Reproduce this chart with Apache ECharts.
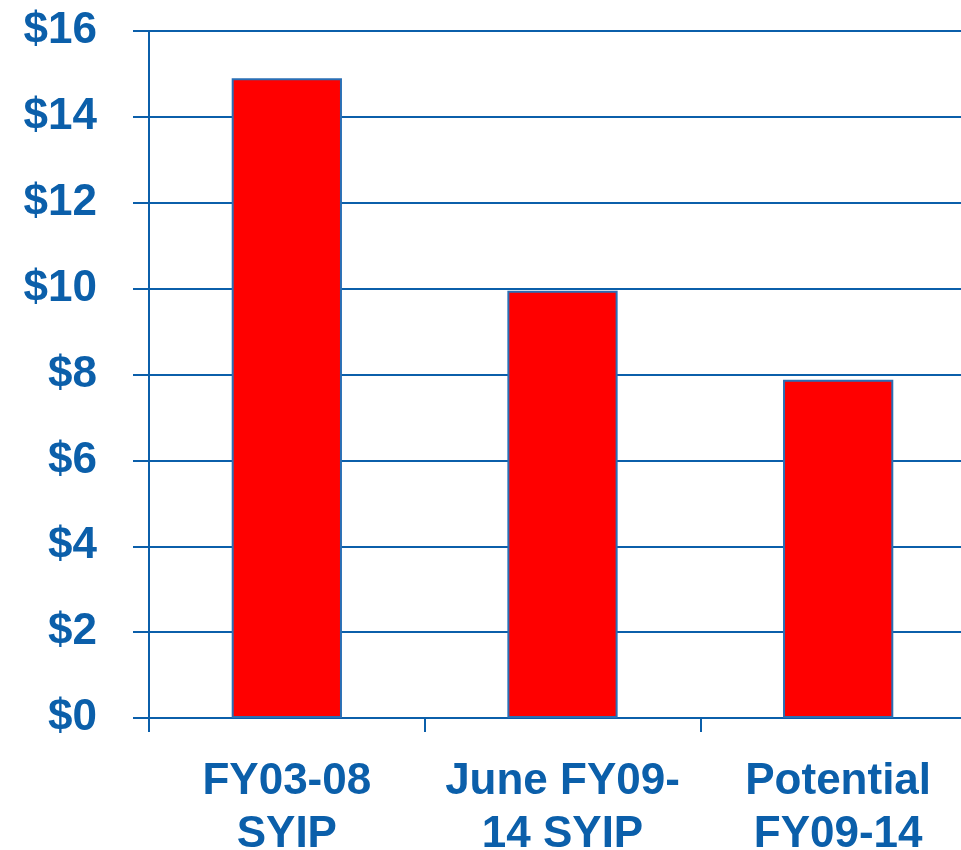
<!DOCTYPE html>
<html>
<head>
<meta charset="utf-8">
<script src="https://cdn.jsdelivr.net/npm/echarts@6/dist/echarts.min.js"></script>
<style>
html, body { margin: 0; padding: 0; background: #fff; }
#main { width: 961px; height: 850px; }
</style>
</head>
<body>
<div id="main"></div>
<script>
let categories = ['FY03-08\nSYIP', 'June FY09-\n14 SYIP', 'Potential\nFY09-14']
let values = [14.9, 9.95, 7.88]
let yTicks = [0, 2, 4, 6, 8, 10, 12, 14, 16]

let blue = '#0B5FAA'
let chart = echarts.init(document.getElementById('main'))
let option = {
	backgroundColor: '#fff',
	animation: false,
	grid: {
		left: 149,
		right: -15,
		top: 31,
		bottom: 132,
		containLabel: false,
		outerBoundsMode: 'none'
	},
	xAxis: {
		type: 'category',
		data: categories,
		boundaryGap: true,
		axisLine: { lineStyle: { color: blue, width: 2 } },
		axisTick: { show: true, length: 14, lineStyle: { color: blue, width: 2 } },
		axisLabel: {
			interval: 0,
			margin: 37,
			color: blue,
			fontFamily: 'Liberation Sans, Arial, sans-serif',
			fontWeight: 'bold',
			fontSize: 44,
			lineHeight: 53
		}
	},
	yAxis: {
		type: 'value',
		min: yTicks[0],
		max: yTicks[yTicks.length - 1],
		interval: 2,
		axisLine: { show: true, lineStyle: { color: blue, width: 2 } },
		axisTick: { show: true, length: 16, lineStyle: { color: blue, width: 2 } },
		splitLine: { show: true, lineStyle: { color: blue, width: 2 } },
		axisLabel: {
			margin: 52,
			color: blue,
			fontFamily: 'Liberation Sans, Arial, sans-serif',
			fontWeight: 'bold',
			fontSize: 44,
			padding: [4, 0, 0, 0],
			formatter: v => '$' + v
		}
	},
	series: [{
		type: 'bar',
		data: values,
		barWidth: '40%',
		itemStyle: {
			color: '#FF0000',
			borderColor: '#2A6FB5',
			borderWidth: 2
		}
	}]
}
chart.setOption(option)
</script>
</body>
</html>
